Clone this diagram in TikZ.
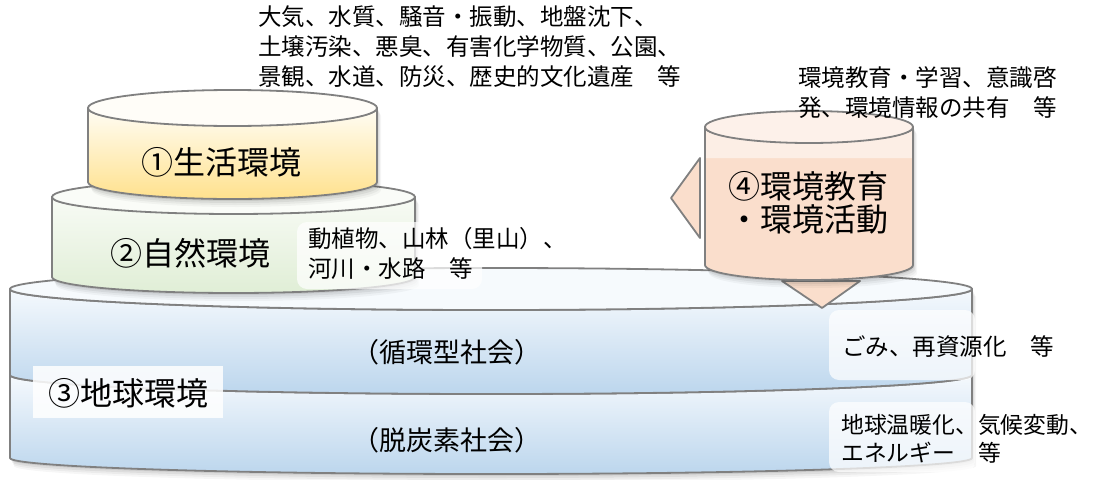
\documentclass[tikz,border=0pt]{standalone}
\usepackage{fontspec}
\setmainfont{Noto Sans CJK JP}
\definecolor{edge}{HTML}{808080}
\definecolor{yelT}{HTML}{FFFDF5}
\definecolor{yelB}{HTML}{FFE18D}
\definecolor{yelTop}{HTML}{FFFDF8}
\definecolor{grnT}{HTML}{F8FBF5}
\definecolor{grnB}{HTML}{E0EED6}
\definecolor{grnTop}{HTML}{FAFCF8}
\definecolor{bluT}{HTML}{F5F9FD}
\definecolor{bluB}{HTML}{BCD6ED}
\definecolor{bluTop}{HTML}{F6FAFD}
\definecolor{pchA}{HTML}{FCEEE5}
\definecolor{pchB}{HTML}{FADECC}
\definecolor{pchTop}{HTML}{FDF1EA}
\newcommand\cylshadow[5]{%
 \foreach \s/\o in {8/0.035,6/0.045,4/0.06,2/0.07}{%
  \fill[black,opacity=\o,shift={(\s*0.5,\s)}] (#1-#4,#2) -- (#1-#4,#3) arc[start angle=180,end angle=0,x radius=#4,y radius=#5] -- (#1+#4,#2) arc[start angle=0,end angle=-180,x radius=#4,y radius=#5] -- cycle;}}
\newcommand\cylbody[6]{%
  \path[#6] (#1-#4,#2) -- (#1-#4,#3) arc[start angle=180,end angle=0,x radius=#4,y radius=#5] -- (#1+#4,#2) arc[start angle=0,end angle=180,x radius=#4,y radius=#5] -- cycle;}
\begin{document}
\begin{tikzpicture}[x=1pt,y=-1pt,
  outl/.style={draw=edge,line width=1.8pt,line join=round},
  small/.style={font=\fontsize{23.5}{30}\selectfont,inner sep=0pt,align=left,text=black},
  big/.style={font=\fontsize{32}{34}\selectfont,inner sep=0pt,align=center,text=black},
  tbox/.style={fill=white,fill opacity=0.72,rounded corners=10pt}]
\useasboundingbox[fill=white] (0,0) rectangle (1097,479);

% ---------- cylinder 3 : earth ----------
\cylshadow{491}{289}{458}{481}{16}
\path[outl,top color=bluT,bottom color=bluB] (10,375) -- (10,458) arc[start angle=180,end angle=0,x radius=481,y radius=16] -- (972,375) arc[start angle=0,end angle=180,x radius=481,y radius=19] -- cycle;
\path[outl,top color=bluT,bottom color=bluB] (10,289) -- (10,375) arc[start angle=180,end angle=0,x radius=481,y radius=19] -- (972,289) arc[start angle=0,end angle=180,x radius=481,y radius=21] -- cycle;
\path[outl,fill=bluTop] (491,289) ellipse[x radius=481,y radius=21];

% ---------- cylinder 2 : nature ----------
\cylshadow{233.5}{197}{277}{181.5}{16}
\cylbody{233.5}{197}{277}{181.5}{16}{outl,top color=grnT,bottom color=grnB}
\path[outl,fill=grnTop] (233.5,197) ellipse[x radius=181.5,y radius=17];

% ---------- cylinder 1 : living ----------
\cylshadow{232.5}{108}{182}{144.5}{17}
\cylbody{232.5}{108}{182}{144.5}{17}{outl,top color=yelT,bottom color=yelB}
\path[outl,fill=yelTop] (232.5,108) ellipse[x radius=144.5,y radius=18];

% ---------- cylinder 4 : education with arrows ----------
\path[outl,fill=pchB] (700,158) -- (671,198) -- (700,238) -- cycle;
\path[outl,fill=pchB] (782,281) -- (822,308) -- (860,281) -- cycle;
\cylshadow{809}{127}{265}{104}{15}
\cylbody{809}{127}{265}{104}{15}{fill=pchB}
\path[fill=pchA] (705,127) -- (705,158) -- (913,158) -- (913,127) arc[start angle=0,end angle=180,x radius=104,y radius=16] -- cycle;
\cylbody{809}{127}{265}{104}{15}{outl}
\path[outl,fill=pchTop] (809,127) ellipse[x radius=104,y radius=16];

% ---------- label boxes ----------
\fill[tbox] (297,222) rectangle (482,289);
\fill[tbox] (829,310) rectangle (975,380);
\fill[tbox] (829,402) rectangle (975,472);
\fill[white,fill opacity=0.85] (33,366) rectangle (223,418);

% ---------- texts ----------
\node[small,anchor=west] (t1) at (258,47) {大気、水質、騒音・振動、地盤沈下、\\土壌汚染、悪臭、有害化学物質、公園、\\景観、水道、防災、歴史的文化遺産　等};
\node[small,anchor=west] (t4) at (798,93) {環境教育・学習、意識啓\\発、環境情報の共有　等};
\node[small,anchor=west] (t2) at (308,253.5) {動植物、山林（里山）、\\河川・水路　等};
\node[small,anchor=west] (t3a) at (842,347) {ごみ、再資源化　等};
\node[small,anchor=west,font=\fontsize{22.8}{28}\selectfont] (t3b) at (841,438.5) {地球温暖化、気候変動、\\エネルギー　等};
\node[small,font=\fontsize{27}{30}\selectfont] (s1) at (447,352) {（循環型社会）};
\node[small,font=\fontsize{27}{30}\selectfont] (s2) at (447,440) {（脱炭素社会）};
\node[big] (c1) at (221,162) {①生活環境};
\node[big] (c2) at (190,253) {②自然環境};
\node[big] (c3) at (128,393) {③地球環境};
\node[big,font=\fontsize{32}{33}\selectfont] (c4) at (808,203) {④環境教育\\・環境活動};
\end{tikzpicture}
\end{document}
